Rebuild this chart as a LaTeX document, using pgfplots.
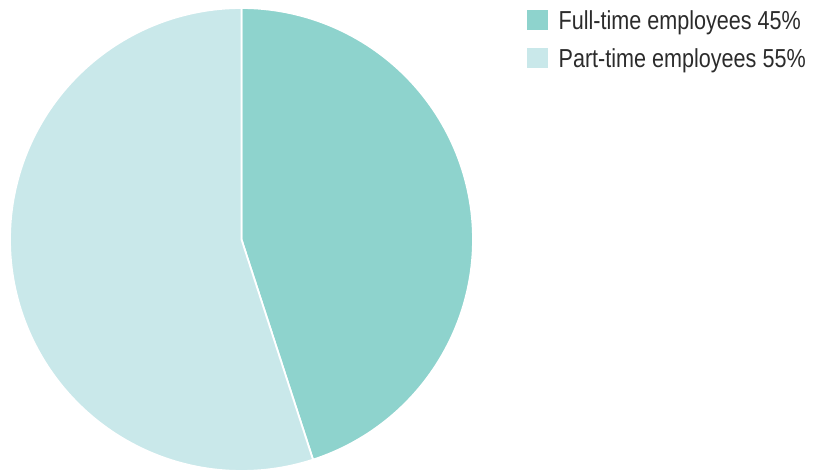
\documentclass[border=0pt]{standalone}
\usepackage{pgfplots}
\pgfplotsset{compat=1.18}
\usepackage{fontspec}
\setmainfont{Liberation Sans}
\newfontfamily\legfont[FakeStretch=0.83]{Liberation Sans}
\definecolor{fullc}{HTML}{8ED3CD}
\definecolor{partc}{HTML}{C9E8EA}
\definecolor{txt}{HTML}{2B2B2B}
\begin{document}
\begin{tikzpicture}
\path[use as bounding box] (0pt,0pt) rectangle (814pt,474pt);
\def\fullval{45}
\def\partval{55}
\pgfmathsetmacro\angA{90-\fullval*3.6}
\pgfmathsetmacro\angB{\angA-\partval*3.6}
\begin{axis}[
  at={(241.5pt,234.5pt)}, anchor=center,
  scale only axis, width=463pt, height=463pt,
  hide axis, xmin=-1, xmax=1, ymin=-1, ymax=1,
  legend style={at={(1.112,1.0)}, anchor=north west, draw=none, fill=none,
    inner sep=0pt, outer sep=0pt, font=\legfont\fontsize{26}{30}\selectfont\color{txt},
    nodes={inner sep=0pt, text height=19pt, text depth=0pt},
    row sep=14.5pt, /tikz/column 1/.style={column sep=9pt}},
  legend cell align=left,
  legend image code/.code={\fill[#1] (0pt,-11pt) rectangle (23pt,11pt);},
]
\addplot[fill=fullc, draw=white, line width=1.8pt, domain=90:\angA, samples=120]
  ({cos(x)},{sin(x)}) -- (axis cs:0,0) -- cycle;
\addlegendentry{Full-time employees 45\%}
\addplot[fill=partc, draw=white, line width=1.8pt, domain=\angA:\angB, samples=150]
  ({cos(x)},{sin(x)}) -- (axis cs:0,0) -- cycle;
\addlegendentry{Part-time employees 55\%}
\end{axis}
\end{tikzpicture}
\end{document}
